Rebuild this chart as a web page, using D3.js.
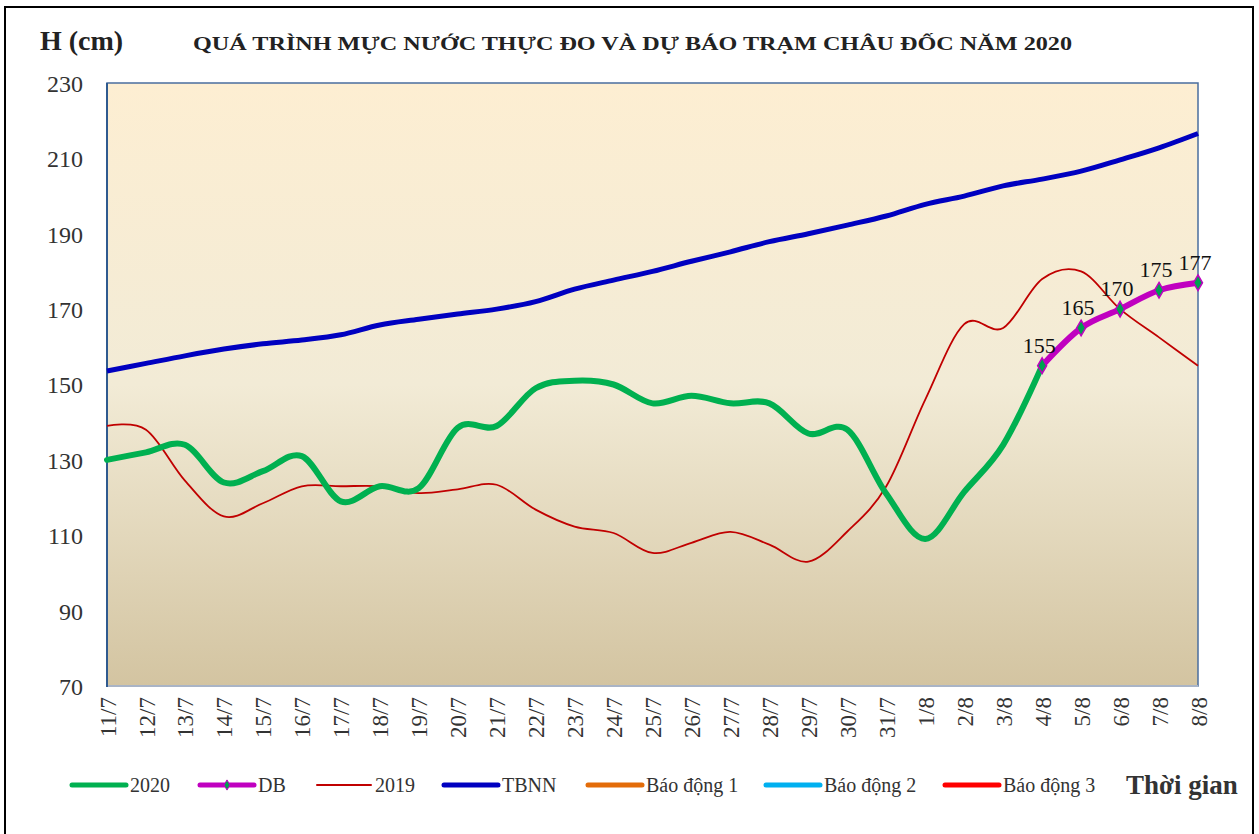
<!DOCTYPE html>
<html>
<head>
<meta charset="utf-8">
<script src="https://cdn.jsdelivr.net/npm/d3@7"></script>
<style>
  html, body { margin: 0; padding: 0; background: #fff; }
  svg { display: block; }
  text { font-family: "Liberation Serif", "Times New Roman", serif; }
</style>
</head>
<body>
<svg id="chart" width="1259" height="834"></svg>
<script>
const categories = ["11/7","12/7","13/7","14/7","15/7","16/7","17/7","18/7","19/7","20/7","21/7","22/7","23/7","24/7","25/7","26/7","27/7","28/7","29/7","30/7","31/7","1/8","2/8","3/8","4/8","5/8","6/8","7/8","8/8"];
const s2020 = [130,132,134,124,127,131,119,123,122.5,138.5,139,149,151,150,145,147,145,145,137,138,121,109,121.5,134,155,null,null,null,null];
const sDB   = [null,null,null,null,null,null,null,null,null,null,null,null,null,null,null,null,null,null,null,null,null,null,null,null,155,165,170,175,177];
const s2019 = [139,138,124.5,115,118.5,123,123,123,121.2,122.2,123.4,116.8,112.3,110.6,105.3,108,110.9,107.5,103,111,123,146,166,165,178,180,170,162.5,155];
const sTBNN = [153.6,155.6,157.6,159.4,160.8,161.8,163.2,165.8,167.3,168.7,170,172,175.3,177.7,180,182.7,185.2,187.9,190,192.3,194.7,197.8,200,202.7,204.5,206.6,209.6,212.8,216.6];
const yTicks = [70,90,110,130,150,170,190,210,230];
const legendNames = ["2020","DB","2019","TBNN","Báo động 1","Báo động 2","Báo động 3"];
const titleText = "QUÁ TRÌNH MỰC NƯỚC THỰC ĐO VÀ DỰ BÁO TRẠM  CHÂU ĐỐC NĂM  2020";

const svg = d3.select("#chart");
const plot = {left: 107, right: 1198, top: 83, bottom: 686};

// outer frame
svg.append("rect").attr("x", 5).attr("y", 7).attr("width", 1248).attr("height", 840)
  .attr("fill", "#fff").attr("stroke", "#000").attr("stroke-width", 2);

const defs = svg.append("defs");
const grad = defs.append("linearGradient").attr("id", "bg").attr("x1", 0).attr("y1", 0).attr("x2", 0).attr("y2", 1);
grad.append("stop").attr("offset", "0%").attr("stop-color", "#FDEED2");
grad.append("stop").attr("offset", "50%").attr("stop-color", "#F2EBD6");
grad.append("stop").attr("offset", "100%").attr("stop-color", "#D3C4A1");

const x = d3.scalePoint().domain(categories).range([plot.left, plot.right]);
const y = d3.scaleLinear().domain([70, 230]).range([plot.bottom, plot.top]);

svg.append("rect").attr("x", plot.left).attr("y", plot.top)
  .attr("width", plot.right - plot.left).attr("height", plot.bottom - plot.top)
  .attr("fill", "url(#bg)").attr("stroke", "#4A6E9E").attr("stroke-width", 1.5);
svg.append("line").attr("x1", plot.left).attr("x2", plot.right).attr("y1", plot.bottom).attr("y2", plot.bottom)
  .attr("stroke", "#A9B4C6").attr("stroke-width", 2);
svg.append("line").attr("x1", plot.left).attr("x2", plot.left).attr("y1", plot.top).attr("y2", plot.bottom + 1)
  .attr("stroke", "#2F5A8F").attr("stroke-width", 2);

// y axis
const yAxis = d3.axisLeft(y).tickValues(yTicks).tickSize(0).tickPadding(24);
const gy = svg.append("g").attr("transform", `translate(${plot.left},0)`).call(yAxis);
gy.select(".domain").remove();
gy.selectAll("text").attr("font-size", 24).attr("fill", "#333")
  .style("font-family", "'Liberation Serif', serif").attr("dy", "0.35em");

// x axis
const xAxis = d3.axisBottom(x).tickSize(0).tickPadding(0);
const gx = svg.append("g").attr("transform", `translate(0,${plot.bottom})`).call(xAxis);
gx.select(".domain").remove();
gx.selectAll("text").attr("font-size", 23).attr("fill", "#333")
  .style("font-family", "'Liberation Serif', serif")
  .attr("text-anchor", "end").attr("transform", "rotate(-90)")
  .attr("x", -11).attr("y", 0).attr("dy", "0.35em");

const curve = d3.curveCardinal.tension(0);
const lineGen = d3.line().defined(d => d.v !== null).x(d => x(d.c)).y(d => y(d.v)).curve(curve);
const toPts = arr => categories.map((c, i) => ({c, v: arr[i]}));

svg.append("path").attr("d", lineGen(toPts(sTBNN))).attr("fill", "none").attr("stroke", "#0000C0").attr("stroke-width", 5);
svg.append("path").attr("d", lineGen(toPts(s2019))).attr("fill", "none").attr("stroke", "#C00000").attr("stroke-width", 1.8);
svg.append("path").attr("d", lineGen(toPts(s2020))).attr("fill", "none").attr("stroke", "#00B050").attr("stroke-width", 6).attr("stroke-linecap", "round");
svg.append("path").attr("d", lineGen(toPts(sDB))).attr("fill", "none").attr("stroke", "#C000C0").attr("stroke-width", 6).attr("stroke-linecap", "round");

const dbPts = toPts(sDB).filter(d => d.v !== null);
const diamond = d3.symbol().type(d3.symbolDiamond).size(70);
svg.selectAll(".mk").data(dbPts).enter().append("path")
  .attr("transform", d => `translate(${x(d.c)},${y(d.v)})`)
  .attr("d", diamond).attr("fill", "#00A050").attr("stroke", "#C000C0").attr("stroke-width", 1.5);
svg.selectAll(".lbl").data(dbPts).enter().append("text")
  .attr("x", d => x(d.c) - 3).attr("y", d => y(d.v) - 13)
  .attr("text-anchor", "middle").attr("font-size", 22).attr("fill", "#111")
  .text(d => d.v);

// titles
svg.append("text").attr("x", 40).attr("y", 50).attr("font-size", 28).attr("font-weight", "bold").attr("fill", "#222").text("H (cm)");
svg.append("text").attr("x", 193).attr("y", 50).attr("font-size", 19).attr("font-weight", "bold").attr("fill", "#222")
  .attr("textLength", 879).attr("lengthAdjust", "spacingAndGlyphs").text(titleText);

// legend
const legendColors = ["#00B050","#C000C0","#C00000","#0000C0","#E36C09","#00B0F0","#FF0000"];
const legendWidths = [5,5,2,5,5,5,5];
const legendX = [72,200,317,444,588,766,945];
const ly = 785;
legendNames.forEach((name, i) => {
  const g = svg.append("g");
  g.append("line").attr("x1", legendX[i]).attr("x2", legendX[i] + 54).attr("y1", ly).attr("y2", ly)
    .attr("stroke", legendColors[i]).attr("stroke-width", legendWidths[i]).attr("stroke-linecap", "round");
  if (name === "DB") {
    g.append("path").attr("transform", `translate(${legendX[i] + 27},${ly})`).attr("d", d3.symbol().type(d3.symbolDiamond).size(30))
      .attr("fill", "#00A050").attr("stroke", "#C000C0");
  }
  g.append("text").attr("x", legendX[i] + 58).attr("y", ly).attr("dy", "0.35em")
    .attr("font-size", 20).attr("fill", "#333").text(name);
});
svg.append("text").attr("x", 1126).attr("y", 794).attr("font-size", 27).attr("font-weight", "bold").attr("fill", "#333").text("Thời gian");
</script>
</body>
</html>
